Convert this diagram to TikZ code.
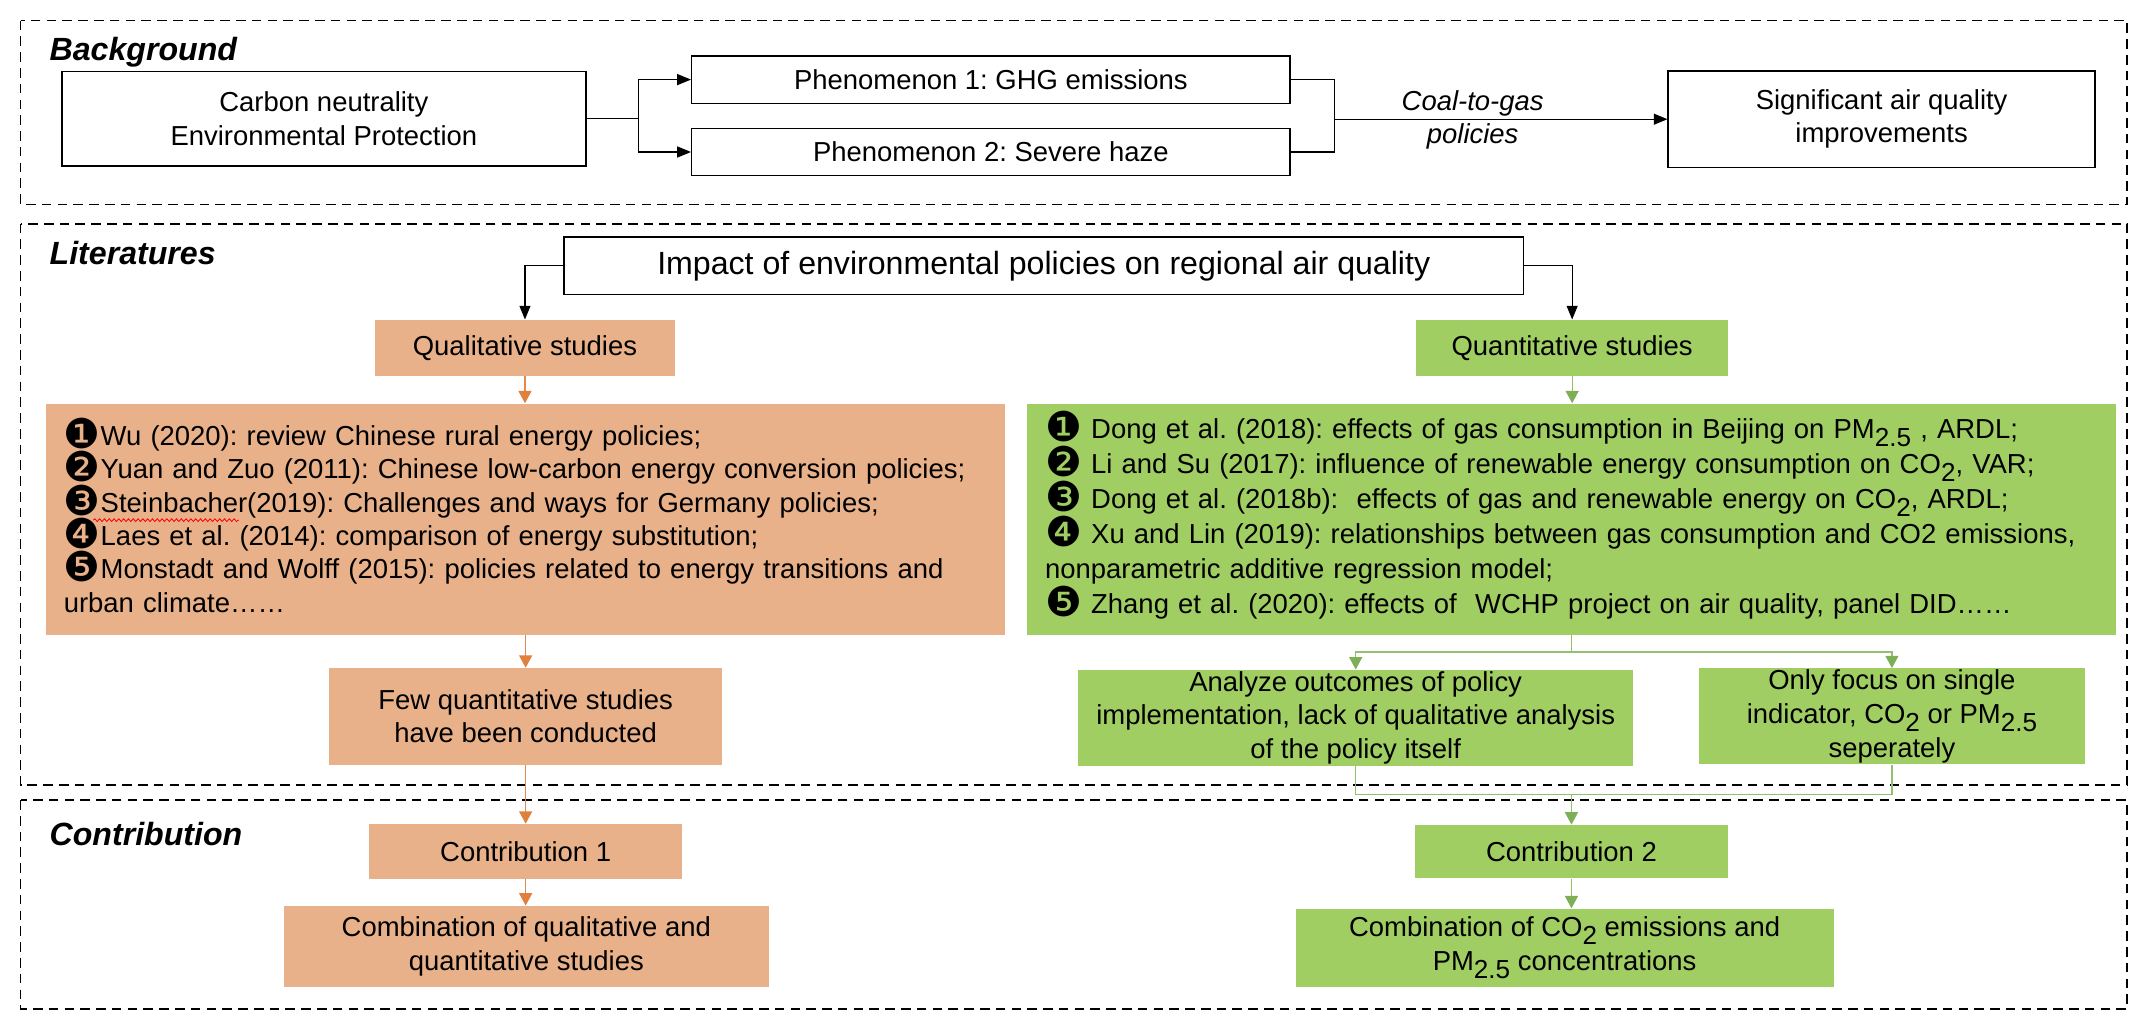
\documentclass[tikz,border=0pt]{standalone}
\usepackage{fontspec}
\setmainfont{Liberation Sans}
\newfontfamily\dejavu{DejaVu Sans}
\usetikzlibrary{arrows.meta,decorations.pathmorphing}
\definecolor{orfill}{HTML}{E8B189}
\definecolor{grfill}{HTML}{A0CE63}
\definecolor{orline}{HTML}{E08A50}
\definecolor{orarrow}{HTML}{E0803C}
\definecolor{grline}{HTML}{92C16E}
\definecolor{grarrow}{HTML}{7EAE55}
\newcommand{\mysub}[1]{\raisebox{-0.28em}{\fontsize{19}{19}\selectfont #1}}
\newcommand{\cn}[1]{\smash{\raisebox{-2pt}{\dejavu\fontsize{30}{30}\selectfont #1}}}
\frenchspacing
\tikzset{
  base/.style={font=\fontsize{20}{24.3}\selectfont, align=center, inner sep=0pt, text=black},
  wbox/.style={base, draw=black, line width=1.1pt, fill=white},
  obox/.style={base, fill=orfill},
  gbox/.style={base, fill=grfill},
  frame/.style={draw=black, dash pattern=on 7pt off 4.5pt, line width=1.3pt},
  sect/.style={font=\fontsize{23.4}{28}\selectfont\bfseries\itshape, inner sep=0pt, anchor=base west},
  blk/.style={draw=black, line width=0.9pt, -{Triangle[width=8pt,length=10pt]}},
  bline/.style={draw=black, line width=0.9pt},
  oarr/.style={draw=orline, line width=0.9pt, -{Triangle[width=9.5pt,length=9pt,color=orarrow]}},
  garr/.style={draw=grline, line width=0.9pt, -{Triangle[width=9.5pt,length=9pt,color=grarrow]}},
  gline/.style={draw=grline, line width=0.9pt},
  spell/.style={draw=red, line width=0.6pt, decorate, decoration={snake, amplitude=1pt, segment length=3.5pt}}
}
\begin{document}
\begin{tikzpicture}[x=1pt,y=-1pt]
\useasboundingbox (0,0) rectangle (1568,752);
% frames
\draw[frame] (15,15) rectangle (1550,149);
\draw[frame] (15,163) rectangle (1550,572);
\draw[frame] (15,583) rectangle (1550,735);
\node[sect] (lbg) at (36,44) {Background};
\node[sect] (llit) at (36,193) {Literatures};
\node[sect] (lcon) at (36,616) {Contribution};

% Background
\node[wbox, minimum width=382pt, minimum height=69pt] (carbon) at (236,86.5) {Carbon neutrality\\Environmental Protection};
\node[wbox, minimum width=436pt, minimum height=34.7pt] (phen1) at (722,58) {Phenomenon 1: GHG emissions};
\node[wbox, minimum width=436pt, minimum height=34.5pt] (phen2) at (722,110.75) {Phenomenon 2: Severe haze};
\node[wbox, minimum width=311pt, minimum height=70.3pt] (signif) at (1371,86.85) {Significant air quality\\improvements};
\coordinate (j1) at (465,86.5);
\coordinate (j2) at (972.5,86.85);
\draw[bline] (carbon.east) -- (j1);
\draw[blk] (j1) |- (phen1.west);
\draw[blk] (j1) |- (phen2.west);
\draw[bline] (phen1.east) -| (j2);
\draw[bline] (phen2.east) -| (j2);
\draw[blk] (j2) -- (signif.west);
\node[base, font=\fontsize{20}{24.5}\selectfont\itshape] (coal) at (1073,87.5) {Coal-to-gas\\policies};

% Literatures
\node[wbox, minimum width=699pt, minimum height=41.6pt, font=\fontsize{23.4}{28}\selectfont] (impact) at (760.5,193.6) {Impact of environmental policies on regional air quality};
\node[obox, minimum width=219pt, minimum height=41pt] (qual) at (382.5,253.5) {Qualitative studies};
\node[gbox, minimum width=227pt, minimum height=41pt] (quant) at (1145.5,253.5) {Quantitative studies};
\draw[blk] (impact.west) -| (qual.north);
\draw[blk] (impact.east) -| (quant.north);

\node[obox, text width=672.5pt, inner xsep=13pt, minimum height=168.5pt, align=left] (olist) at (382.75,378.25) {%
\cn{❶}Wu (2020): review Chinese rural energy policies;\\
\cn{❷}Yuan and Zuo (2011): Chinese low-carbon energy conversion policies;\\
\cn{❸}Steinbacher(2019): Challenges and ways for Germany policies;\\
\cn{❹}Laes et al. (2014): comparison of energy substitution;\\
\cn{❺}Monstadt and Wolff (2015): policies related to energy transitions and\\
urban climate……};
\coordinate (sw1) at (68,379);
\coordinate (sw2) at (174,379);
\draw[spell] (sw1) -- (sw2);
\node[gbox, text width=767pt, inner xsep=13.5pt, minimum height=168.5pt, align=left, font=\fontsize{20}{25.5}\selectfont] (glist) at (1145,378.25) {%
\cn{❶} Dong et al. (2018): effects of gas consumption in Beijing on PM\mysub{2.5} , ARDL;\\
\cn{❷} Li and Su (2017): influence of renewable energy consumption on CO\mysub{2}, VAR;\\
\cn{❸} Dong et al. (2018b):\ \ effects of gas and renewable energy on CO\mysub{2}, ARDL;\\
\cn{❹} Xu and Lin (2019): relationships between gas consumption and CO2 emissions,\\
nonparametric additive regression model;\\
\cn{❺} Zhang et al. (2020): effects of\ \ WCHP project on air quality, panel DID……};
\draw[oarr] (qual.south) -- (qual.south |- olist.north);
\draw[garr] (quant.south) -- (quant.south |- glist.north);

\node[obox, minimum width=286pt, minimum height=70.5pt] (few) at (383,522) {Few quantitative studies\\have been conducted};
\draw[oarr] (few.north |- olist.south) -- (few.north);

\node[gbox, minimum width=404.4pt, minimum height=70pt] (analyze) at (987.8,523) {Analyze outcomes of policy\\implementation, lack of qualitative analysis\\of the policy itself};
\node[gbox, minimum width=281pt, minimum height=70pt, font=\fontsize{20}{25}\selectfont] (only) at (1378.5,522) {Only focus on single\\indicator, CO\mysub{2} or PM\mysub{2.5}\\seperately};
\coordinate (gj1) at (1145,475);
\draw[gline] (glist.south) -- (gj1);
\draw[garr] (gj1) -| (analyze.north);
\draw[garr] (gj1) -| (only.north);

% Contribution
\node[obox, minimum width=228pt, minimum height=39.8pt] (contr1) at (383,620.3) {Contribution 1};
\node[obox, minimum width=353pt, minimum height=59pt] (comb1) at (383.5,689.5) {Combination of qualitative and\\quantitative studies};
\node[gbox, minimum width=228.4pt, minimum height=39pt] (contr2) at (1145,620.5) {Contribution 2};
\node[gbox, minimum width=392pt, minimum height=57pt, font=\fontsize{20}{25}\selectfont] (comb2) at (1140,690.5) {Combination of CO\mysub{2} emissions and\\PM\mysub{2.5} concentrations};
\draw[oarr] (few.south) -- (few.south |- contr1.north);
\draw[oarr] (contr1.south) -- (contr1.south |- comb1.north);
\coordinate (gj2) at (1145,579);
\draw[gline] (analyze.south) |- (gj2);
\draw[gline] (only.south) |- (gj2);
\draw[garr] (gj2) -- (contr2.north);
\draw[garr] (contr2.south) -- (contr2.south |- comb2.north);
\end{tikzpicture}
\end{document}
